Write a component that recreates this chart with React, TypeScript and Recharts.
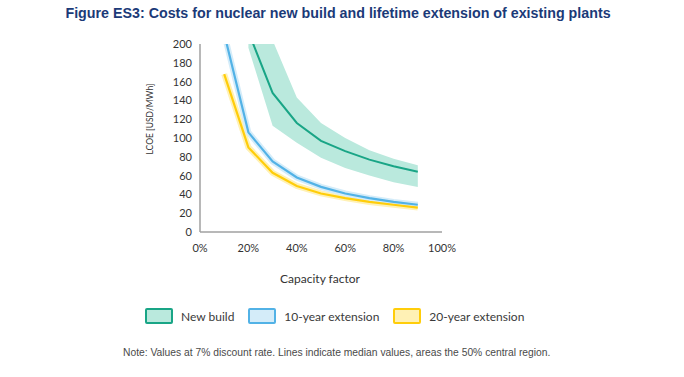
import React from 'react';
import { ComposedChart, Line, Area, XAxis, YAxis } from 'recharts';

// capacity factor (%)
const capacity = [10, 20, 30, 40, 50, 60, 70, 80, 90];

// LCOE, USD/MWh
const newBuildMedian = [null, 213, 148, 116, 97, 86, 77, 70, 64];
const newBuildLow = [null, 196, 113, 95, 79, 68, 60, 53, 48];
const newBuildHigh = [null, 300, 204, 143, 116, 100, 87, 78, 71];
const ext10 = [211, 106, 75, 58, 48, 41, 36, 32, 29];
const ext20 = [168, 90, 63, 49, 41, 36, 32, 29, 26];

const xTicks = [0, 20, 40, 60, 80, 100];
const yTicks = [0, 20, 40, 60, 80, 100, 120, 140, 160, 180, 200];

const data = capacity.map((cf, i) => ({
  cf,
  nb: newBuildMedian[i],
  nbBand: newBuildLow[i] == null ? null : [newBuildLow[i], newBuildHigh[i]],
  e10: ext10[i],
  e20: ext20[i],
}));

const GREEN = '#19a586';
const GREEN_FILL = '#bae9dd';
const BLUE = '#52b2e6';
const BLUE_FILL = '#d4ecf9';
const YELLOW = '#ffcd0a';
const YELLOW_FILL = '#fff1b5';

const tickStyle = { fill: '#333', fontSize: 11, fontFamily: 'Lato' };

function Swatch({ fill, stroke }: { fill: string; stroke: string }) {
  return (
    <span style={{
      display: 'inline-block', width: 24, height: 12, background: fill,
      border: `2px solid ${stroke}`, borderRadius: 2, marginRight: 8,
    }} />
  );
}

export default function App() {
  return (
    <div style={{ position: 'absolute', left: 0, top: 0, width: 684, height: 377, background: '#fff', fontFamily: 'Lato' }}>
      <div style={{
        position: 'absolute', left: 338, top: 4, transform: 'translateX(-50%) scaleX(0.92)',
        fontFamily: '"Liberation Sans Narrow", "Liberation Sans", sans-serif', fontWeight: 700,
        fontSize: 15.5, color: '#1b3a78', whiteSpace: 'nowrap',
      }}>
        Figure ES3: Costs for nuclear new build and lifetime extension of existing plants
      </div>

      <div style={{ position: 'absolute', left: 0, top: 0 }}>
        <ComposedChart width={684} height={377} data={data}
          margin={{ top: 44, right: 242, bottom: 125, left: 160 }}>
          <XAxis dataKey="cf" type="number" domain={[0, 100]} ticks={xTicks}
            tickFormatter={(v) => `${v}%`} tickLine={false} tickMargin={6}
            axisLine={{ stroke: '#a0a0a0', strokeWidth: 1.5 }} tick={tickStyle} height={20} />
          <YAxis type="number" domain={[0, 200]} ticks={yTicks} allowDataOverflow
            tickLine={false} axisLine={{ stroke: '#a0a0a0', strokeWidth: 1.5 }}
            tick={tickStyle} width={40} interval={0} />
          <Area dataKey="nbBand" type="linear" fill={GREEN_FILL} fillOpacity={1} stroke="none"
            isAnimationActive={false} activeDot={false} />
          <Line dataKey="nb" type="linear" stroke={GREEN} strokeWidth={2} dot={false}
            isAnimationActive={false} activeDot={false} />
          <Line dataKey="e20" type="linear" stroke={YELLOW_FILL} strokeWidth={6} dot={false}
            isAnimationActive={false} activeDot={false} legendType="none" />
          <Line dataKey="e10" type="linear" stroke={BLUE_FILL} strokeWidth={6} dot={false}
            isAnimationActive={false} activeDot={false} legendType="none" />
          <Line dataKey="e20" type="linear" stroke={YELLOW} strokeWidth={2.2} dot={false}
            isAnimationActive={false} activeDot={false} />
          <Line dataKey="e10" type="linear" stroke={BLUE} strokeWidth={2.2} dot={false}
            isAnimationActive={false} activeDot={false} />
        </ComposedChart>
      </div>

      <div style={{
        position: 'absolute', left: 150, top: 119, transform: 'translate(-50%, -50%) rotate(-90deg)',
        fontSize: 8.5, color: '#333', whiteSpace: 'nowrap',
      }}>
        LCOE [USD/MWh]
      </div>

      <div style={{
        position: 'absolute', left: 320, top: 278, transform: 'translate(-50%, -50%)',
        fontSize: 12, color: '#333', whiteSpace: 'nowrap',
      }}>
        Capacity factor
      </div>

      <div style={{
        position: 'absolute', left: 145, top: 308, display: 'flex', alignItems: 'center',
        fontSize: 12, color: '#3a3a3a', whiteSpace: 'nowrap',
      }}>
        <Swatch fill={GREEN_FILL} stroke={GREEN} />
        <span style={{ marginRight: 14 }}>New build</span>
        <Swatch fill={BLUE_FILL} stroke={BLUE} />
        <span style={{ marginRight: 14 }}>10-year extension</span>
        <Swatch fill={YELLOW_FILL} stroke={YELLOW} />
        <span>20-year extension</span>
      </div>

      <div style={{
        position: 'absolute', left: 123, top: 347, fontSize: 10.3,
        fontFamily: '"Liberation Sans", sans-serif', color: '#4a4a4a', whiteSpace: 'nowrap',
      }}>
        Note: Values at 7% discount rate. Lines indicate median values, areas the 50% central region.
      </div>
    </div>
  );
}
